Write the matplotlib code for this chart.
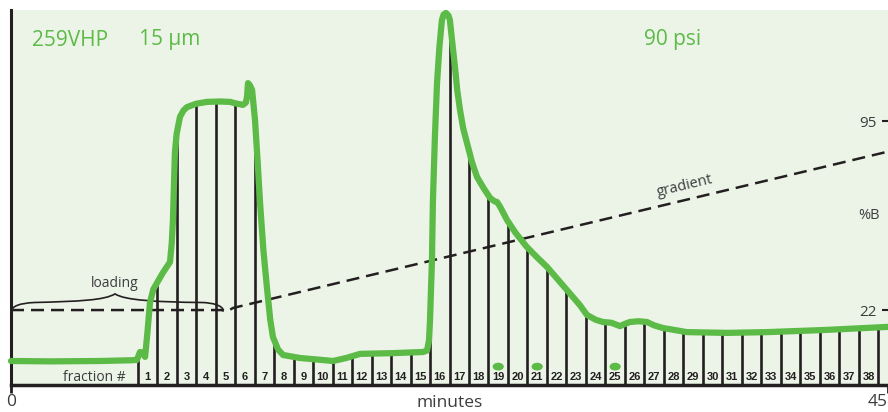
"""
Purification run on 259VHP 15 um at 90 psi: UV trace, %B gradient and collected fractions.
"""
import numpy as np
import matplotlib.pyplot as plt
from matplotlib.path import Path
from matplotlib.patches import PathPatch, Ellipse

plt.rcParams['font.family'] = ['Open Sans', 'DejaVu Sans']

GREEN = '#5cba47'
INK = '#231f20'
GREY = '#3c3c3c'
BG = '#ecf4e8'

# UV trace (minutes, arbitrary absorbance units)
trace_t = [0.0, 2.0, 4.6, 6.2, 6.46, 6.62, 6.75, 6.88, 7.0, 7.13, 7.3, 7.49, 7.8, 8.16,
           8.25, 8.31, 8.36, 8.41, 8.5, 8.67, 8.85, 9.03, 9.5, 10.06, 10.7, 11.24, 11.6,
           11.9, 12.05, 12.11, 12.16, 12.25, 12.37, 12.52, 12.65, 12.78, 12.95, 13.13,
           13.3, 13.44, 13.7, 13.96, 14.83, 15.7, 16.52, 17.2, 17.91, 19.6, 21.14, 21.35,
           21.45, 21.5, 21.6, 21.65, 21.75, 21.86, 21.98, 22.11, 22.2, 22.32, 22.45, 22.52,
           22.65, 22.78, 22.9, 23.04, 23.2, 23.4, 23.65, 23.91, 24.25, 24.58, 24.8, 24.94,
           25.1, 25.45, 25.9, 26.47, 27.0, 27.5, 28.0, 28.53, 29.19, 29.55, 30.0, 30.37,
           30.8, 31.25, 31.5, 31.76, 32.2, 32.63, 33.0, 33.45, 34.68, 36.74, 38.79, 41.87, 45.0]
trace_a = [6.4, 6.3, 6.4, 6.6, 6.7, 8.8, 8.6, 7.5, 14.0, 21.9, 25.5, 27.2, 30.0, 32.8,
           38.0, 44.0, 53.0, 61.9, 67.0, 71.5, 73.2, 74.1, 75.0, 75.5, 75.6, 75.5, 75.0,
           74.7, 75.3, 76.8, 80.5, 80.0, 78.7, 70.7, 60.0, 48.5, 36.0, 26.1,
           17.5, 12.8, 9.5, 8.0, 7.2, 6.8, 6.4, 7.2, 8.3, 8.5, 8.8, 9.2,
           12.0, 17.3, 33.3, 49.3, 66.0, 80.5, 90.0, 97.3, 98.8, 99.2, 98.5, 97.3,
           91.0, 84.8, 78.5, 73.3, 68.5, 64.5, 59.5, 55.5, 52.5, 49.9, 49.0, 48.8,
           47.5, 44.0, 40.5, 36.8, 34.0, 31.5, 28.5, 25.3, 21.3, 18.7, 17.4, 16.8,
           16.6, 15.7, 16.3, 16.8, 17.0, 16.8, 15.9, 15.2, 14.1, 13.9, 14.1, 14.7, 15.5]

# %B gradient program
grad_t = [0.0, 10.8, 11.07, 11.39, 45.0]
grad_b = [22.0, 22.0, 21.4, 22.8, 83.2]
pct_ticks = [22, 95]

# fraction collection
first_fraction_start = 6.5   # min
fraction_width = 1.0         # min
n_fractions = 38
marked_fractions = [19, 21, 25]

loading_end = 10.9

fig = plt.figure(figsize=(8.88, 4.12), dpi=100)
ax = fig.add_axes([11 / 888, 27 / 412, 877 / 888, 375 / 412])
ax.set_facecolor(BG)
ax.set_xlim(0, 45)
ax.set_ylim(0, 100)

# %B scale on the right
ax2 = ax.twinx()
ax2.set_ylim(-6.95, 137.9)
ax2.patch.set_visible(False)
for s in ax2.spines.values():
    s.set_visible(False)

# fraction dividers run up to the trace
edges = first_fraction_start + fraction_width * np.arange(n_fractions + 1)
tops = np.interp(edges, trace_t, trace_a)
ax.vlines(edges, 0, tops, color=INK, lw=1.9, zorder=2)

fractions = np.arange(1, n_fractions + 1)
centers = edges[:-1] + fraction_width / 2
for n, c in zip(fractions, centers):
    ax.text(c, 2.1, str(n), ha='center', va='center', fontsize=8,
            fontweight='bold', family='Liberation Sans', color=INK, zorder=3)
for n in marked_fractions:
    ax.add_patch(Ellipse((centers[n - 1], 4.9), 0.5, 1.7, color=GREEN, zorder=3))
ax.text(edges[0] - 0.6, 2.1, 'fraction #', ha='right', va='center', fontsize=10, color=GREY)

# gradient, drawn in %B units under the trace
ax.plot(grad_t, grad_b, color=INK, lw=1.8, dashes=(5.2, 2.8), zorder=3,
        transform=ax2.transData)

# UV trace
ax.plot(trace_t, trace_a, color=GREEN, lw=4.5, solid_joinstyle='round',
        solid_capstyle='round', zorder=5, clip_on=False)

# loading brace
brace = Path([(0.0, 19.8), (0.1, 21.0), (0.4, 21.8), (1.2, 22.0),
              (3.5, 22.3), (4.8, 22.6), (5.34, 24.3),
              (5.8, 22.6), (7.5, 22.1), (9.8, 22.0),
              (10.4, 21.9), (10.8, 21.2), (loading_end, 20.0)],
             [Path.MOVETO] + [Path.CURVE4] * 12)
ax.add_patch(PathPatch(brace, fill=False, ec=INK, lw=1.2, zorder=3))
ax.text(5.34, 27.0, 'loading', ha='center', va='center', fontsize=10, color=GREY)

# headline text
ax.text(1.1, 92, '259VHP', fontsize=15, color=GREEN, va='center')
ax.text(6.55, 92, '15 µm', fontsize=15, color=GREEN, va='center')
ax.text(32.5, 92, '90 psi', fontsize=15, color=GREEN, va='center')

for s in ['top', 'right']:
    ax.spines[s].set_visible(False)
ax.spines['left'].set_linewidth(2.2)
ax.spines['bottom'].set_linewidth(2.5)
ax.spines['left'].set_color(INK)
ax.spines['bottom'].set_color(INK)
ax.set_yticks([])
ax.set_xticks([0, 45])
ax.set_xticklabels(['0', '45'], fontsize=12.5, color=GREY)
ax.get_xticklabels()[-1].set_ha('right')
ax.tick_params(axis='x', direction='out', length=6, width=2, color=INK, pad=0.5)
ax.text(22.5, -10 / 375, 'minutes', transform=ax.get_xaxis_transform(),
        ha='center', va='top', fontsize=12.5, color=GREY)

ax2.set_yticks(pct_ticks)
ax2.set_yticklabels([str(v) for v in pct_ticks], fontsize=11, color=GREY)
for lab in ax2.get_yticklabels():
    lab.set_ha('right')
ax2.tick_params(axis='y', direction='in', length=4.5, width=1.5, color=INK, pad=-8)
ax2.text(0.991, 58.7, '%B', transform=ax2.get_yaxis_transform(), ha='right',
         va='center', fontsize=10.5, color=GREY)
ax2.text(34.6, 69.8, 'gradient', rotation=13.5, ha='center', va='center',
         fontsize=10.5, color=GREY, rotation_mode='anchor')

fig.savefig('out.png', dpi=100, facecolor='white')
